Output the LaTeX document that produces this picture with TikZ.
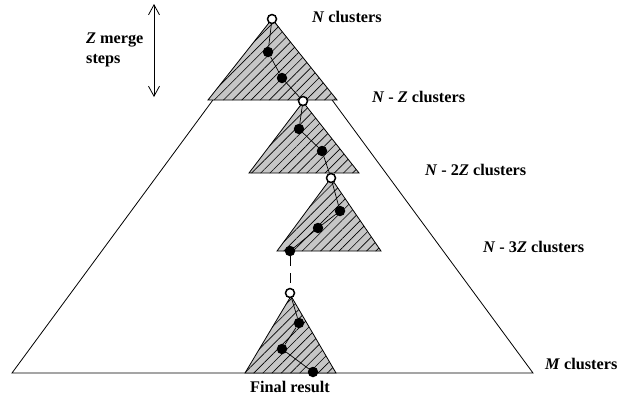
\documentclass[tikz,border=0pt]{standalone}
\usepackage{fontspec}
\setmainfont{Liberation Serif}
\usetikzlibrary{patterns.meta,arrows.meta}
\tikzset{
  tri/.style={draw=black, line width=0.8bp, fill=gray!45,
    postaction={pattern={Lines[angle=45,distance=6.5bp,line width=0.65bp]}}},
  bigtri/.style={draw=black, line width=0.8bp},
  wdot/.style={circle, draw=black, line width=1.5bp, fill=white, inner sep=0pt, minimum size=9bp},
  bdot/.style={circle, fill=black, inner sep=0pt, minimum size=10.5bp},
  link/.style={draw=black, line width=0.7bp},
  lbl/.style={font=\fontsize{16.3}{19}\selectfont\bfseries, inner sep=0pt},
}
\begin{document}
\begin{tikzpicture}[x=1bp,y=-1bp]
\useasboundingbox (0,0) rectangle (618,397);
% big triangle
\draw[bigtri] (272.5,19) -- (533,373) -- (12,373) -- cycle;
% small triangles
\draw[tri] (272,19) -- (337,100) -- (208,100) -- cycle;
\draw[tri] (303,102) -- (359,173) -- (249,173) -- cycle;
\draw[tri] (331,178) -- (381,251) -- (277,251) -- cycle;
\draw[tri] (291,296) -- (336,373) -- (245,373) -- cycle;
% merge paths
\node[wdot] (w1) at (272,19) {};
\node[bdot] (a1) at (268,52) {};
\node[bdot] (a2) at (282,78) {};
\node[wdot] (w2) at (303,101) {};
\node[bdot] (b1) at (299,129) {};
\node[bdot] (b2) at (322,151) {};
\node[wdot] (w3) at (331,178) {};
\node[bdot] (c1) at (340,211) {};
\node[bdot] (c2) at (318,228) {};
\node[bdot] (c3) at (290,251) {};
\node[wdot] (w4) at (290,293) {};
\node[bdot] (d1) at (299,323) {};
\node[bdot] (d2) at (282,349) {};
\node[bdot] (d3) at (313,372) {};
\draw[link] (w1) -- (a1) -- (a2) -- (w2);
\draw[link] (w2) -- (b1) -- (b2) -- (w3);
\draw[link] (w3) -- (c1) -- (c2) -- (c3);
\draw[link, dash pattern=on 10bp off 7bp] (c3) -- (w4);
\draw[link] (w4) -- (d1) -- (d2) -- (d3);
% labels
\node[lbl, anchor=west] (l1) at (312,17) {\textit{N} clusters};
\node[lbl, anchor=west] (l2) at (372,97) {\textit{N} - \textit{Z} clusters};
\node[lbl, anchor=west] (l3) at (425,170) {\textit{N} - 2\textit{Z} clusters};
\node[lbl, anchor=west] (l4) at (483,247) {\textit{N} - 3\textit{Z} clusters};
\node[lbl, anchor=west] (l5) at (545,364) {\textit{M} clusters};
\node[lbl] (l6) at (290,387) {Final result};
\node[lbl, anchor=west, align=left] (l7) at (86,50) {\textit{Z} merge\\[1bp]steps};
% arrow
\coordinate (at) at (154,4);
\coordinate (ab) at (154,97);
\draw[line width=0.8bp, {Straight Barb[length=10bp,width=11bp]}-{Straight Barb[length=10bp,width=11bp]}] (at) -- (ab);
\end{tikzpicture}
\end{document}
